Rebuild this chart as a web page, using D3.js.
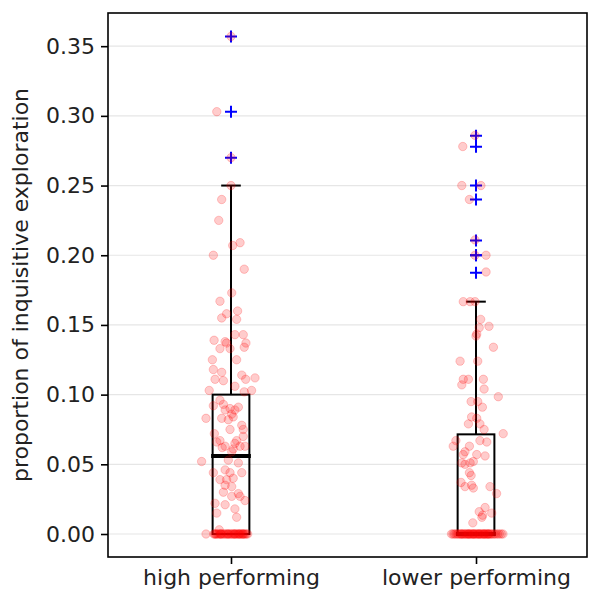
<!DOCTYPE html>
<html>
<head>
<meta charset="utf-8">
<script src="https://cdn.jsdelivr.net/npm/d3@7"></script>
<style>
  body { margin: 0; background: #fff; }
  text { font-family: "DejaVu Sans", sans-serif; }
</style>
</head>
<body>
<div id="chart-area"></div>
<script>
// Global Variables
const MARGIN = { LEFT: 108, RIGHT: 3, TOP: 13, BOTTOM: 38 }
const WIDTH = 590 - MARGIN.LEFT - MARGIN.RIGHT
const HEIGHT = 595 - MARGIN.TOP - MARGIN.BOTTOM

// Data
const groups = ["high performing", "lower performing"]
const yTicks = [0, 0.05, 0.10, 0.15, 0.20, 0.25, 0.30, 0.35]

// box statistics
const q1 = [0, 0]
const medians = [0.056, 0]
const q3 = [0.100, 0.0715]
const whiskerLo = [0, 0]
const whiskerHi = [0.25, 0.1667]
const fliers = [
  [0.357, 0.303, 0.270],
  [0.2857, 0.2778, 0.25, 0.24, 0.2105, 0.2, 0.2, 0.1875]
]

// observations: [jitter (category units), value]
const highPoints = [
  [0, 0.357], [-0.058, 0.303], [0, 0.270], [0, 0.250], [-0.038, 0.240], [-0.050, 0.225],
  [0.007, 0.207], [0.037, 0.209], [-0.072, 0.200], [0.054, 0.190], [0.003, 0.173], [-0.045, 0.167],
  [0.027, 0.160], [-0.018, 0.158], [-0.038, 0.155], [0.023, 0.154], [0.016, 0.143], [0.050, 0.143],
  [-0.069, 0.139], [-0.024, 0.138], [-0.018, 0.137], [0.061, 0.137], [-0.045, 0.133], [-0.004, 0.133],
  [0.054, 0.134], [-0.076, 0.125], [0.023, 0.125], [-0.072, 0.118], [-0.038, 0.116], [0.044, 0.114],
  [0.098, 0.112], [-0.065, 0.111], [-0.031, 0.110], [0.060, 0.111], [0.016, 0.106], [-0.089, 0.103],
  [0.084, 0.103], [0.054, 0.102],
  [-0.045, 0.096], [-0.031, 0.093], [-0.004, 0.090], [0.016, 0.089], [0.030, 0.091], [-0.072, 0.092],
  [-0.102, 0.083], [-0.038, 0.083], [-0.011, 0.082], [0.009, 0.084], [-0.024, 0.089], [0.003, 0.086],
  [0.044, 0.078], [-0.004, 0.075], [0.050, 0.075], [-0.068, 0.072], [0.050, 0.070], [-0.045, 0.067],
  [0.023, 0.067], [-0.058, 0.066], [-0.036, 0.062], [0.016, 0.065], [0.037, 0.063], [-0.024, 0.063],
  [0.009, 0.061], [0.003, 0.059], [0.057, 0.063],
  [-0.120, 0.052], [-0.011, 0.053], [0.030, 0.051], [-0.024, 0.046], [-0.072, 0.044], [-0.004, 0.044],
  [0.044, 0.044], [-0.045, 0.039], [-0.018, 0.039], [0.009, 0.040], [-0.024, 0.035], [0.003, 0.034],
  [-0.031, 0.030], [0.030, 0.029], [0.003, 0.027], [0.057, 0.024], [0.037, 0.027], [-0.065, 0.022],
  [-0.024, 0.021], [0.016, 0.018], [-0.058, 0.015], [0.023, 0.012], [-0.048, 0.003],
  [-0.102, 0], [-0.070, 0], [-0.066, 0], [-0.060, 0], [-0.055, 0], [-0.050, 0], [-0.045, 0], [-0.040, 0],
  [-0.036, 0], [-0.030, 0], [-0.026, 0], [-0.020, 0], [-0.016, 0], [-0.010, 0], [-0.005, 0], [0, 0],
  [0.004, 0], [0.009, 0], [0.013, 0], [0.018, 0], [0.022, 0], [0.027, 0], [0.031, 0], [0.036, 0],
  [0.040, 0], [0.045, 0], [0.050, 0], [0.054, 0], [0.058, 0], [0.063, 0], [0.068, 0], [-0.063, 0],
  [-0.042, 0], [-0.012, 0], [0.015, 0], [0.033, 0], [0.048, 0]
]

const lowerPoints = [
  [-0.004, 0.286], [-0.054, 0.278], [-0.058, 0.250], [0.020, 0.250], [-0.027, 0.240], [-0.004, 0.211],
  [-0.004, 0.200], [0.041, 0.200], [0.041, 0.188],
  [-0.052, 0.1667], [-0.024, 0.1667], [-0.004, 0.1667],
  [0.019, 0.154], [0.053, 0.149], [0.013, 0.148], [0.003, 0.1435], [0, 0.142], [0.071, 0.134],
  [-0.065, 0.124], [0.007, 0.124], [-0.052, 0.111], [-0.031, 0.111], [0.030, 0.111], [-0.058, 0.107],
  [0.033, 0.104], [0.091, 0.0985], [-0.020, 0.095], [0.007, 0.095], [0.026, 0.091], [-0.018, 0.084],
  [0.003, 0.083], [-0.031, 0.079], [0.016, 0.079], [0.033, 0.075], [0.111, 0.072],
  [-0.082, 0.067], [0.016, 0.067], [0.044, 0.066], [-0.093, 0.063], [-0.027, 0.063], [-0.045, 0.059],
  [-0.052, 0.057], [0.003, 0.057], [0.037, 0.056], [-0.058, 0.051], [-0.024, 0.051], [-0.011, 0.052],
  [-0.045, 0.050], [-0.027, 0.044], [-0.020, 0.042], [-0.061, 0.037], [-0.045, 0.034], [-0.018, 0.035],
  [-0.011, 0.033], [0.057, 0.034], [0.084, 0.029], [0.037, 0.019], [0.013, 0.016], [0.064, 0.015],
  [0.024, 0.012], [0.027, 0.0135], [-0.013, 0.008],
  [-0.100, 0], [-0.094, 0], [-0.088, 0], [-0.082, 0], [-0.077, 0], [-0.072, 0], [-0.067, 0], [-0.062, 0],
  [-0.057, 0], [-0.053, 0], [-0.049, 0], [-0.045, 0], [-0.041, 0], [-0.037, 0], [-0.033, 0], [-0.029, 0],
  [-0.025, 0], [-0.021, 0], [-0.017, 0], [-0.013, 0], [-0.009, 0], [-0.005, 0], [-0.001, 0], [0.003, 0],
  [0.007, 0], [0.011, 0], [0.015, 0], [0.019, 0], [0.023, 0], [0.027, 0], [0.031, 0], [0.035, 0],
  [0.039, 0], [0.043, 0], [0.047, 0], [0.051, 0], [0.055, 0], [0.059, 0], [0.064, 0], [0.069, 0],
  [0.075, 0], [0.081, 0], [0.088, 0], [0.095, 0], [0.103, 0], [0.110, 0], [-0.060, 0], [-0.030, 0],
  [-0.010, 0], [0.012, 0], [0.033, 0], [0.050, 0]
]
const points = [highPoints, lowerPoints]

const svg = d3.select("#chart-area").append("svg")
  .attr("width", WIDTH + MARGIN.LEFT + MARGIN.RIGHT)
  .attr("height", HEIGHT + MARGIN.TOP + MARGIN.BOTTOM)
  .append("g")
  .attr("transform", `translate(${MARGIN.LEFT},${MARGIN.TOP})`)

// Scales
const x = d3.scaleLinear()
  .domain([0.498, 2.453])
  .range([0, WIDTH])
const y = d3.scaleLinear()
  .domain([-0.0165, 0.3738])
  .range([HEIGHT, 0])

const BOX_W = 0.15
const CAP_W = 0.08

// grid
svg.append("g").selectAll("line")
  .data(yTicks)
  .join("line")
  .attr("x1", 0).attr("x2", WIDTH)
  .attr("y1", d => y(d)).attr("y2", d => y(d))
  .attr("stroke", "#e6e6e6")
  .attr("stroke-width", 1.2)

// Boxes
groups.forEach((g, i) => {
  const c = i + 1
  const box = svg.append("g").attr("class", "box")
  box.append("line")
    .attr("x1", x(c)).attr("x2", x(c))
    .attr("y1", y(q3[i])).attr("y2", y(whiskerHi[i]))
    .attr("stroke", "black").attr("stroke-width", 2)
  box.append("line")
    .attr("x1", x(c - CAP_W / 2)).attr("x2", x(c + CAP_W / 2))
    .attr("y1", y(whiskerHi[i])).attr("y2", y(whiskerHi[i]))
    .attr("stroke", "black").attr("stroke-width", 2)
  box.append("line")
    .attr("x1", x(c - CAP_W / 2)).attr("x2", x(c + CAP_W / 2))
    .attr("y1", y(whiskerLo[i])).attr("y2", y(whiskerLo[i]))
    .attr("stroke", "black").attr("stroke-width", 2)
  box.append("rect")
    .attr("x", x(c - BOX_W / 2))
    .attr("y", y(q3[i]))
    .attr("width", x(c + BOX_W / 2) - x(c - BOX_W / 2))
    .attr("height", y(q1[i]) - y(q3[i]))
    .attr("fill", "none")
    .attr("stroke", "black").attr("stroke-width", 2)
  box.append("line")
    .attr("x1", x(c - BOX_W / 2) - 1.5).attr("x2", x(c + BOX_W / 2) + 1.5)
    .attr("y1", y(medians[i])).attr("y2", y(medians[i]))
    .attr("stroke", "black").attr("stroke-width", 4)
  // fliers
  box.selectAll(".flier")
    .data(fliers[i])
    .join("path")
    .attr("class", "flier")
    .attr("d", d => `M${x(c) - 6},${y(d)}h12M${x(c)},${y(d) - 6}v12`)
    .attr("stroke", "blue").attr("stroke-width", 2)
})

// jittered observations
points.forEach((pts, i) => {
  svg.append("g").selectAll("circle")
    .data(pts)
    .join("circle")
    .attr("cx", d => x(i + 1 + d[0]))
    .attr("cy", d => y(d[1]))
    .attr("r", 4.2)
    .attr("fill", "red").attr("fill-opacity", 0.2)
    .attr("stroke", "red").attr("stroke-opacity", 0.2).attr("stroke-width", 1)
})

// Axes
svg.append("g")
  .call(d3.axisLeft(y).tickValues(yTicks).tickFormat(d3.format(".2f")).tickSize(7).tickPadding(6))
svg.append("g")
  .attr("transform", `translate(0,${HEIGHT})`)
  .call(d3.axisBottom(x).tickValues([1, 2]).tickFormat((d, i) => groups[i]).tickSize(7).tickPadding(5))
svg.selectAll(".domain").remove()
svg.selectAll(".tick line").attr("stroke", "black").attr("stroke-width", 1.6)
svg.selectAll(".tick text").style("font-size", "22px").attr("fill", "#222")

// frame
svg.append("rect")
  .attr("width", WIDTH).attr("height", HEIGHT)
  .attr("fill", "none").attr("stroke", "black").attr("stroke-width", 1.6)

// y label
svg.append("text")
  .attr("transform", `translate(${-80},${HEIGHT / 2}) rotate(-90)`)
  .attr("text-anchor", "middle")
  .style("font-size", "22px")
  .attr("fill", "#222")
  .text("proportion of inquisitive exploration")
</script>
</body>
</html>
